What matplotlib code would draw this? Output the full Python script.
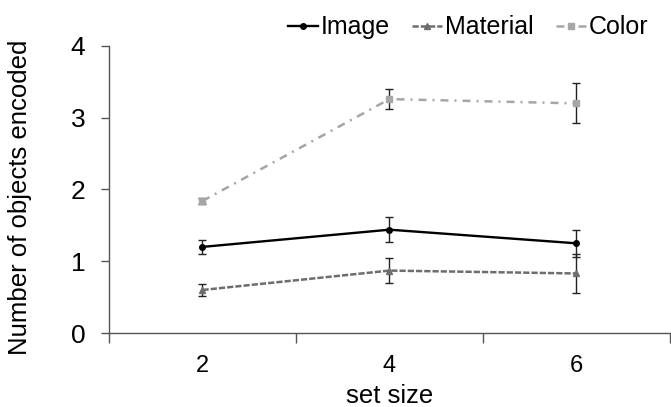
import matplotlib.pyplot as plt

plt.rcParams['font.family'] = ['Liberation Sans', 'DejaVu Sans']

# data
set_sizes = [2, 4, 6]
image = [1.20, 1.44, 1.25]
image_err = [0.10, 0.17, 0.19]
material = [0.60, 0.87, 0.83]
material_err = [0.085, 0.18, 0.27]
color = [1.84, 3.26, 3.20]
color_err = [0.04, 0.14, 0.28]

fig = plt.figure(figsize=(6.71, 4.07), dpi=100)
ax = fig.add_axes([0.1624, 0.1818, 0.8361, 0.7052])

err_kw = dict(ecolor='#222222', elinewidth=1, capsize=3, capthick=1)

c = ax.errorbar(set_sizes, color, yerr=color_err, color='#a6a6a6', lw=1.8,
                dashes=(3.2, 2.4, 0.8, 2.4), marker='s', ms=4.5, **err_kw)
m = ax.errorbar(set_sizes, material, yerr=material_err, color='#6d6d6d', lw=1.8,
                dashes=(2.5, 0.8), marker='^', ms=4, **err_kw)
i = ax.errorbar(set_sizes, image, yerr=image_err, color='black', lw=1.7,
                marker='o', ms=4, **err_kw)

ax.set_xlim(1, 7)
ax.set_ylim(0, 4)
ax.set_yticks([0, 1, 2, 3, 4])
ax.set_xticks(set_sizes)
ax.set_xticks([1, 3, 5, 7], minor=True)
ax.tick_params(axis='x', which='major', length=0, pad=16, labelsize=17)
ax.tick_params(axis='x', which='minor', length=7, width=1, color='#555555')
ax.tick_params(axis='y', length=6, width=1, color='#555555', pad=11, labelsize=19)

for s in ['top', 'right']:
    ax.spines[s].set_visible(False)
for s in ['left', 'bottom']:
    ax.spines[s].set_color('#555555')
    ax.spines[s].set_linewidth(1)

ax.set_xlabel('set size', fontsize=18.5)
ax.xaxis.set_label_coords(0.5, -0.178)
ax.set_ylabel('Number of objects encoded', fontsize=18.5)
ax.yaxis.set_label_coords(-0.137, 0.474)

ax.legend([i[0], m[0], c[0]], ['Image', 'Material', 'Color'],
          loc='center', bbox_to_anchor=(0.64, 1.065), ncol=3, frameon=False,
          fontsize=18, handlelength=1.2, handletextpad=0.1, columnspacing=0.9,
          borderaxespad=0)

fig.savefig('out.png', dpi=100)
